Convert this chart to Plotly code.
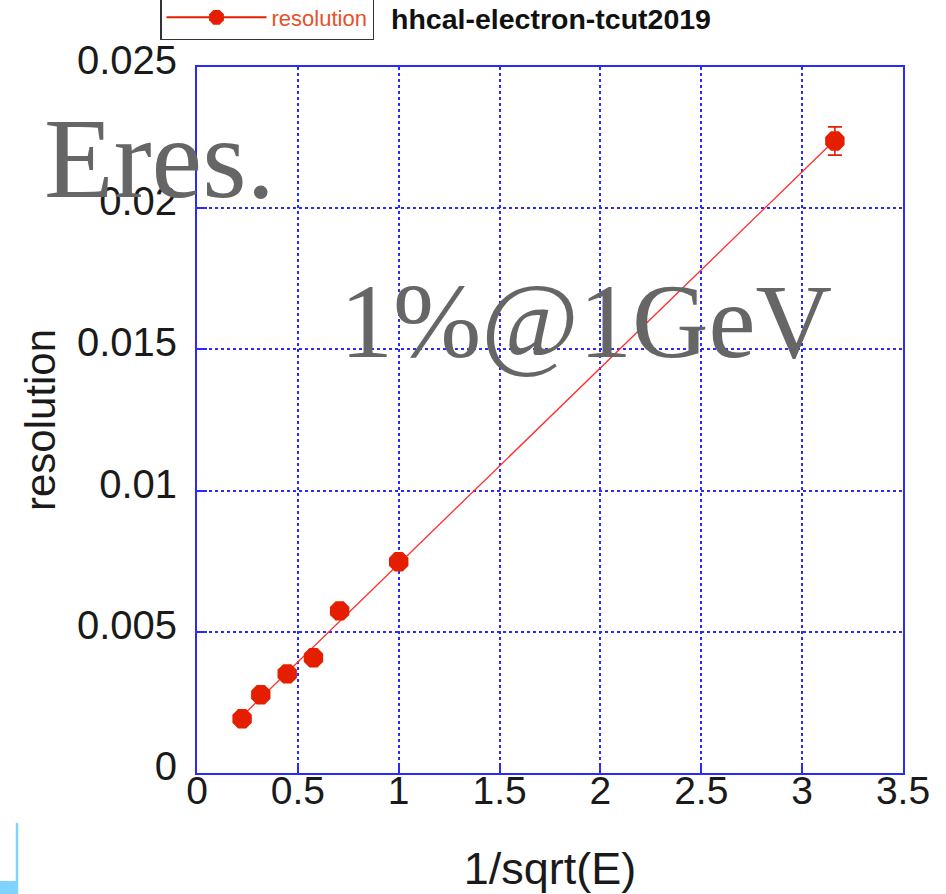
import numpy as np
import plotly.graph_objects as go

# ---- data ----
inv_sqrt_e = [0.2236, 0.3162, 0.4472, 0.5774, 0.7071, 1.0, 3.1623]
resolution = [0.00192, 0.00277, 0.00351, 0.00408, 0.00574, 0.00748, 0.02238]
resolution_err = [0.00008, 0.00008, 0.00008, 0.00008, 0.0001, 0.0001, 0.0005]

x_tick_vals = [0, 0.5, 1, 1.5, 2, 2.5, 3, 3.5]
x_tick_text = ["0", "0.5", "1", "1.5", "2", "2.5", "3", "3.5"]
y_tick_vals = [0, 0.005, 0.01, 0.015, 0.02, 0.025]
y_tick_text = ["0", "0.005", "0.01", "0.015", "0.02", "0.025"]

series_name = "resolution"
chart_title = "hhcal-electron-tcut2019"
x_title = "1/sqrt(E)"
y_title = "resolution"
note_1 = "Eres."
note_2 = "1%@1GeV"

# linear fit through the points
slope, intercept = np.polyfit(inv_sqrt_e, resolution, 1)
fit_x = [min(inv_sqrt_e), max(inv_sqrt_e)]
fit_y = [intercept + slope * v for v in fit_x]

RED = "#e61e00"
BLUE = "#2a2aff"
W, H = 946, 894
L, R, T, B = 197, 43, 67, 121
PW, PH = W - L - R, H - T - B


def px(xp):
    return (xp - L) / PW


def py(yp):
    return (H - B - yp) / PH


fig = go.Figure()

fig.add_trace(go.Scatter(
    x=fit_x, y=fit_y, mode="lines",
    line=dict(color="#ff2a2a", width=1.3),
    showlegend=False, hoverinfo="skip",
))

fig.add_trace(go.Scatter(
    x=inv_sqrt_e, y=resolution, mode="markers",
    marker=dict(symbol="octagon", size=21, color=RED, line=dict(width=0)),
    error_y=dict(type="data", array=resolution_err, color=RED, thickness=1.6, width=7),
    showlegend=False,
))

# legend sample (line + marker)
fig.add_trace(go.Scatter(
    x=[None], y=[None], mode="lines+markers", name=series_name,
    marker=dict(symbol="octagon", size=20, color=RED),
    line=dict(color=RED, width=2),
))

axis_common = dict(
    showline=True, linecolor=BLUE, linewidth=2, mirror=True,
    ticks="inside", ticklen=10, tickwidth=2, tickcolor=BLUE,
    showgrid=True, gridcolor=BLUE, gridwidth=1.5, griddash="dot",
    zeroline=False,
)

fig.update_xaxes(
    range=[0, 3.5], tickvals=x_tick_vals, ticktext=x_tick_text,
    tickfont=dict(family="Liberation Sans, Arial, sans-serif", size=39, color="#1a1a1a"),
    ticklabelstandoff=-18,
    title=dict(text=x_title, standoff=48,
               font=dict(family="Liberation Sans, Arial, sans-serif", size=45, color="#1a1a1a")),
    **axis_common,
)
fig.update_yaxes(
    range=[0, 0.025], tickvals=y_tick_vals, ticktext=y_tick_text,
    tickfont=dict(family="Liberation Sans, Arial, sans-serif", size=40, color="#1a1a1a"),
    ticklabelstandoff=10, ticklabelshift=-7,
    title=dict(text=y_title, standoff=8,
               font=dict(family="Liberation Sans, Arial, sans-serif", size=42, color="#1a1a1a")),
    **axis_common,
)

fig.add_annotation(
    x=px(42), y=py(158), xref="paper", yref="paper", xanchor="left", yanchor="middle",
    text=note_1, showarrow=False,
    font=dict(family="Liberation Serif, Times New Roman, serif", size=114, color="#666666"),
)
fig.add_annotation(
    x=px(338), y=py(321), xref="paper", yref="paper", xanchor="left", yanchor="middle",
    text=note_2, showarrow=False,
    font=dict(family="Liberation Serif, Times New Roman, serif", size=106, color="#666666"),
)
fig.add_annotation(
    x=px(389), y=py(19), xref="paper", yref="paper", xanchor="left", yanchor="middle",
    text="<b>" + chart_title + "</b>", showarrow=False,
    font=dict(family="Liberation Sans, Arial, sans-serif", size=28.5, color="#111111"),
)

# light blue decoration at bottom-left
fig.add_shape(type="line", xref="paper", yref="paper", layer="above",
              x0=px(17), x1=px(17), y0=py(823), y1=py(894),
              line=dict(color="#7fd4ff", width=2.5))
fig.add_shape(type="rect", xref="paper", yref="paper", layer="above",
              x0=px(0), x1=px(18), y0=py(881), y1=py(894),
              line=dict(width=0), fillcolor="#7fd4ff")

fig.update_layout(
    width=W, height=H,
    margin=dict(l=L, r=R, t=T, b=B, autoexpand=False),
    paper_bgcolor="white", plot_bgcolor="white",
    legend=dict(
        x=px(160), y=py(40), xanchor="left", yanchor="bottom",
        bordercolor="#333333", borderwidth=1.5, bgcolor="white",
        itemwidth=100,
        font=dict(family="Liberation Sans, Arial, sans-serif", size=22, color="#e8502a"),
    ),
)

fig.write_html("out.html")
